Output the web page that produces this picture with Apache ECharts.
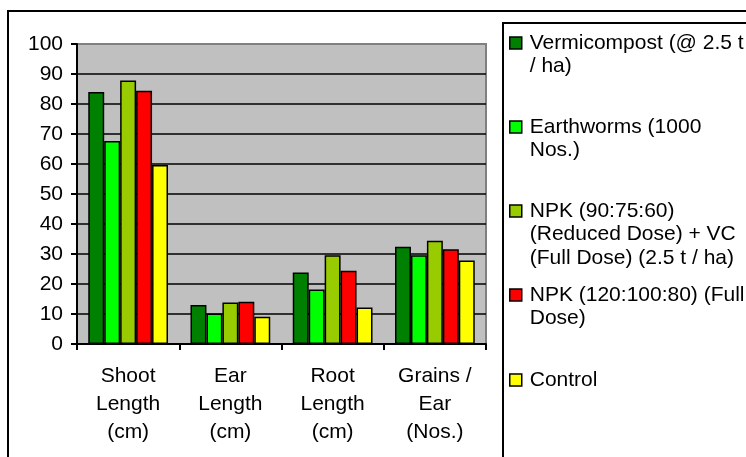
<!DOCTYPE html>
<html>
<head>
<meta charset="utf-8">
<script src="https://cdn.jsdelivr.net/npm/echarts@6/dist/echarts.min.js"></script>
<style>
  html, body { margin: 0; padding: 0; background: #fff; }
  #main { width: 746px; height: 457px; }
</style>
</head>
<body>
<div id="main"></div>
<script>
var categories = ['Shoot\nLength\n(cm)', 'Ear\nLength\n(cm)', 'Root\nLength\n(cm)', 'Grains /\nEar\n(Nos.)'];
var seriesNames = [
    'Vermicompost (@ 2.5 t\n/ ha)',
    'Earthworms (1000\nNos.)',
    'NPK (90:75:60)\n(Reduced Dose) + VC\n(Full Dose) (2.5 t / ha)',
    'NPK (120:100:80) (Full\nDose)',
    'Control'
];
var vermicompost = [84, 13, 23.8, 32.4];
var earthworms = [67.7, 10.2, 18.2, 29.6];
var npkReduced = [87.8, 13.8, 29.6, 34.4];
var npkFull = [84.4, 14.1, 24.4, 31.6];
var control = [59.7, 9.1, 12.2, 27.8];
var yTicks = [0, 10, 20, 30, 40, 50, 60, 70, 80, 90, 100];

var colors = ['#008000', '#00FF00', '#99CC00', '#FF0000', '#FFFF00'];
var allData = [vermicompost, earthworms, npkReduced, npkFull, control];
var fontName = "'Liberation Sans', Arial, sans-serif";

// legend icon centres, one legend per entry so spacing can be even
var legendCentres = [43, 127, 211, 295, 380];
var legendLine = 23.5;

function padLines(n) {
    // blank lines in front so the first text line sits level with the icon
    var s = '';
    for (var k = 1; k < n; k++) s += ' \n';
    return s;
}

var series = [];
var legends = [];
for (var i = 0; i < seriesNames.length; i++) {
    series.push({
        name: seriesNames[i],
        type: 'bar',
        data: allData[i],
        barGap: '0%',
        barCategoryGap: '22%',
        itemStyle: {color: colors[i], borderColor: '#000', borderWidth: 1.5}
    });
    var n = seriesNames[i].split('\n').length;
    legends.push({
        data: [seriesNames[i]],
        orient: 'vertical',
        left: 509,
        top: legendCentres[i] - (2 * n - 1) * legendLine / 2,
        padding: 0,
        itemWidth: 12,
        itemHeight: 12,
        icon: 'rect',
        selectedMode: false,
        formatter: (function (pre) {
            return function (name) { return pre + name; };
        })(padLines(n)),
        itemStyle: {borderColor: '#000', borderWidth: 1.5},
        textStyle: {fontFamily: fontName, fontSize: 21, color: '#000', lineHeight: legendLine, padding: [0, 0, 0, 3]}
    });
}

var splitColors = yTicks.map(function (v) { return v === 100 ? '#808080' : '#000'; });

var myChart = echarts.init(document.getElementById('main'));
var option = {
    animation: false,
    backgroundColor: '#fff',
    color: colors,
    legend: legends,
    grid: {
        left: 77, right: 260, top: 44, bottom: 113,
        show: true,
        backgroundColor: '#C0C0C0',
        borderColor: '#808080',
        borderWidth: 2
    },
    xAxis: {
        type: 'category',
        data: categories,
        axisLine: {lineStyle: {color: '#000', width: 2}},
        axisTick: {show: true, length: 6, lineStyle: {color: '#000', width: 2}},
        axisLabel: {interval: 0, margin: 18, color: '#000', fontFamily: fontName, fontSize: 21, lineHeight: 28}
    },
    yAxis: {
        type: 'value',
        min: 0,
        max: 100,
        interval: 10,
        axisLine: {show: true, lineStyle: {color: '#000', width: 2}},
        axisTick: {show: true, length: 6, lineStyle: {color: '#000', width: 2}},
        axisLabel: {margin: 14, color: '#000', fontFamily: fontName, fontSize: 21},
        splitLine: {show: true, lineStyle: {color: splitColors, width: 1.5}}
    },
    graphic: [
        {type: 'rect', shape: {x: 8, y: 11, width: 760, height: 470}, style: {fill: null, stroke: '#000', lineWidth: 2}, z: -1},
        {type: 'rect', shape: {x: 503, y: 23, width: 260, height: 460}, style: {fill: null, stroke: '#000', lineWidth: 2}, z: -1}
    ],
    series: series
};
myChart.setOption(option);
</script>
</body>
</html>
